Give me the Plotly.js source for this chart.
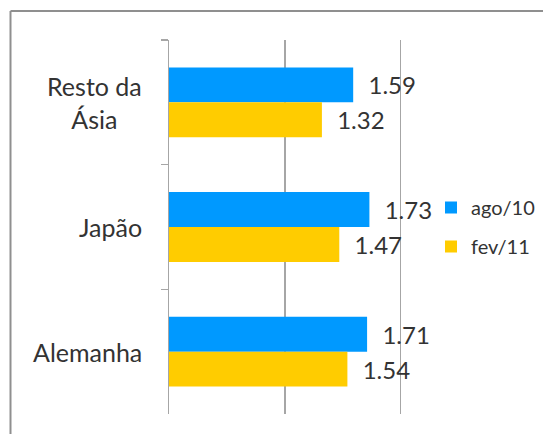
<!DOCTYPE html>
<html>
<head>
<meta charset="utf-8">
<script src="https://cdn.plot.ly/plotly-3.0.1.min.js"></script>
<style>
  html, body { margin: 0; padding: 0; background: #ffffff; }
  #chart { width: 543px; height: 434px; }
</style>
</head>
<body>
<div id="chart"></div>
<script>
// ---- data ----
const categories = ["Resto da<br>Ásia", "Japão", "Alemanha"];
const seriesNames = ["ago/10", "fev/11"];
const ago10 = [1.59, 1.73, 1.71];
const fev11 = [1.32, 1.47, 1.54];
const seriesColors = ["#0099ff", "#ffcc00"];

// ---- layout constants ----
const W = 543, H = 434;
const M = { l: 169, r: 140, t: 40, b: 20, autoexpand: false };
const PW = W - M.l - M.r, PH = H - M.t - M.b;
const px2x = p => (p - M.l) / PW;
const px2y = p => (H - M.b - p) / PH;

const textColor = "#333333";
const gridColor = "#a6a6a6";
const labelPad = "\u00a0\u00a0";

function barTrace(name, values, color) {
  return {
    type: "bar",
    orientation: "h",
    name: name,
    y: categories,
    x: values,
    text: values.map(v => labelPad + v.toFixed(2)),
    textposition: "outside",
    cliponaxis: false,
    constraintext: "none",
    textfont: { family: "Lato, sans-serif", size: 24, color: textColor },
    marker: { color: color },
    hoverinfo: "x+name",
    legendgroup: name
  };
}

const data = [
  barTrace(seriesNames[0], ago10, seriesColors[0]),
  barTrace(seriesNames[1], fev11, seriesColors[1])
];

const annotations = categories.map(c => ({
  xref: "paper", yref: "y",
  x: px2x(144), y: c,
  xanchor: "right", yanchor: "middle",
  align: "center",
  text: c,
  showarrow: false,
  font: { family: "Lato, sans-serif", size: 25, color: textColor }
}));

const layout = {
  width: W, height: H,
  margin: M,
  paper_bgcolor: "#ffffff",
  plot_bgcolor: "rgba(0,0,0,0)",
  barmode: "group",
  bargap: 0.44,
  bargroupgap: 0,
  showlegend: true,
  legend: {
    x: px2x(431), xanchor: "left",
    y: 0.5, yanchor: "middle",
    traceorder: "grouped",
    tracegroupgap: 10,
    font: { family: "Lato, sans-serif", size: 20, color: textColor },
    bgcolor: "rgba(0,0,0,0)"
  },
  xaxis: {
    range: [0, 2.02],
    dtick: 1,
    tick0: 0,
    showticklabels: false,
    showgrid: true,
    gridcolor: gridColor,
    gridwidth: 1.5,
    zeroline: false,
    showline: false,
    ticks: "",
    fixedrange: true
  },
  yaxis: {
    type: "category",
    autorange: "reversed",
    showticklabels: false,
    showline: true,
    linecolor: gridColor,
    linewidth: 1.5,
    ticks: "outside",
    tickson: "boundaries",
    ticklen: 7,
    tickcolor: gridColor,
    tickwidth: 1.5,
    showgrid: false,
    zeroline: false,
    fixedrange: true
  },
  annotations: annotations,
  shapes: [
    { type: "line", xref: "paper", yref: "paper",
      x0: px2x(10.5), x1: px2x(10.5), y0: px2y(11), y1: px2y(460),
      line: { color: "#8f8f8f", width: 2 } },
    { type: "line", xref: "paper", yref: "paper",
      x0: px2x(10.5), x1: px2x(570), y0: px2y(11), y1: px2y(11),
      line: { color: "#8f8f8f", width: 2 } }
  ]
};

Plotly.newPlot("chart", data, layout, { displayModeBar: false, staticPlot: true });
</script>
</body>
</html>
